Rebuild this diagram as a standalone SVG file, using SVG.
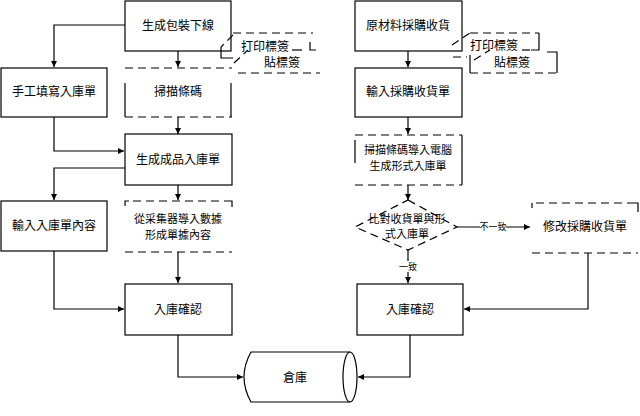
<svg xmlns="http://www.w3.org/2000/svg" width="640" height="416" viewBox="0 0 640 416">
<defs>
<marker id="ah" viewBox="0 0 10 10" refX="10" refY="5" markerWidth="6" markerHeight="6" markerUnits="userSpaceOnUse" orient="auto">
<path d="M0,0 L10,5 L0,10 Z" fill="#000"/>
</marker>
<style>
.box{fill:#fff;stroke:#000;stroke-width:1.2}
.dash{fill:none;stroke:#000;stroke-width:1.2;stroke-dasharray:8,5}
.sol{fill:none;stroke:#000;stroke-width:1.2}
.ln{fill:none;stroke:#000;stroke-width:1.2}
.t{font-family:"Noto Sans CJK TC","Noto Sans CJK SC",sans-serif;font-size:12px;fill:#000;text-anchor:middle}
.t2{font-family:"Noto Sans CJK TC","Noto Sans CJK SC",sans-serif;font-size:11px;fill:#000;text-anchor:middle}
.s{font-family:"Noto Sans CJK TC","Noto Sans CJK SC",sans-serif;font-size:9px;fill:#000;text-anchor:middle}
</style>
</defs>
<rect width="640" height="416" fill="#fff"/>

<g id="connectors">
<path class="ln" d="M178,51 V67" marker-end="url(#ah)"/>
<path class="ln" d="M125,25 H54 V67" marker-end="url(#ah)"/>
<path class="ln" d="M178,117 V134" marker-end="url(#ah)"/>
<path class="ln" d="M54,117 V151 H124" marker-end="url(#ah)"/>
<path class="ln" d="M125,168 H54 V200" marker-end="url(#ah)"/>
<path class="ln" d="M178,185 V200" marker-end="url(#ah)"/>
<path class="ln" d="M178,252 V283" marker-end="url(#ah)"/>
<path class="ln" d="M54,251 V309 H124" marker-end="url(#ah)"/>
<path class="ln" d="M178,335 V377 H243" marker-end="url(#ah)"/>
<path class="ln" d="M408,51 V67" marker-end="url(#ah)"/>
<path class="ln" d="M408,117 V134" marker-end="url(#ah)"/>
<path class="ln" d="M408,185 V200" marker-end="url(#ah)"/>
<path class="ln" d="M408,250 V283" marker-end="url(#ah)"/>
<path class="ln" d="M457,227 H530" marker-end="url(#ah)"/>
<path class="ln" d="M588,253 V309 H464" marker-end="url(#ah)"/>
<path class="ln" d="M410,335 V377 H358" marker-end="url(#ah)"/>
<rect x="397" y="261" width="22" height="11" fill="#fff"/>
<text class="s" x="408" y="270">一致</text>
<rect x="480" y="221" width="26" height="11" fill="#fff"/>
<text class="s" x="493" y="230">不一致</text>
</g>

<g id="n1">
<rect class="box" x="125" y="1" width="106" height="50"/>
<text class="t" x="178" y="30">生成包裝下線</text>
</g>

<g id="callout-left">
<path class="dash" d="M233,33 H313"/>
<path class="dash" d="M233,35 L221,47"/>
<path class="sol" d="M221,47 V58 H233"/>
<path class="sol" d="M310,42 V50 H316"/>
<path class="sol" d="M292,50 H302"/>
<text class="t" x="265" y="51">打印標簽</text>
<path class="dash" d="M234,63 L248,50"/>
<path class="dash" d="M238,73 H320"/>
<text class="t" x="282" y="67">貼標簽</text>
</g>

<g id="n2">
<rect class="box" x="1" y="68" width="106" height="49"/>
<text class="t" x="54" y="96">手工填寫入庫單</text>
</g>

<g id="n3">
<path class="dash" d="M125,68 H232"/>
<path class="sol" d="M125,83 V117 M231,83 V117"/>
<path class="dash" d="M125,117 H232"/>
<text class="t" x="178" y="96">掃描條碼</text>
</g>

<g id="n4">
<rect class="box" x="125" y="134" width="107" height="51"/>
<text class="t" x="178" y="164">生成成品入庫單</text>
</g>

<g id="n5">
<rect class="box" x="1" y="201" width="106" height="50"/>
<text class="t" x="54" y="230">輸入入庫單內容</text>
</g>

<g id="n6">
<path class="sol" d="M125,206 V201 H129"/>
<path class="dash" d="M133,201 H228"/>
<path class="sol" d="M228,201 H232 V207"/>
<path class="dash" d="M125,252 H232"/>
<text class="t2" x="178" y="223">從采集器導入數據</text>
<text class="t2" x="178" y="239">形成單據內容</text>
</g>

<g id="n7">
<rect class="box" x="125" y="284" width="107" height="51"/>
<text class="t" x="178" y="314">入庫確認</text>
</g>

<g id="n8">
<rect class="box" x="355" y="1" width="107" height="50"/>
<text class="t" x="408" y="30">原材料採購收貨</text>
</g>

<g id="callout-right">
<path class="dash" d="M452,45 L470,33"/>
<path class="dash" d="M470,33 H539"/>
<path class="sol" d="M539,33 V50 H531"/>
<path class="dash" d="M522,50 H531"/>
<text class="t" x="494" y="50">打印標簽</text>
<path class="dash" d="M453,57 H467"/>
<path class="dash" d="M474,60 L490,50"/>
<path class="sol" d="M470,55 V73"/>
<path class="dash" d="M470,73 H557"/>
<path class="sol" d="M547,52 H557 V73"/>
<text class="t" x="512" y="67">貼標簽</text>
</g>

<g id="n9">
<rect class="box" x="355" y="68" width="107" height="49"/>
<text class="t" x="408" y="96">輸入採購收貨單</text>
</g>

<g id="n10">
<path class="dash" d="M355,135 H462"/>
<path class="sol" d="M355,140 V163 M462,135 V185"/>
<path class="dash" d="M355,185 H462"/>
<text class="t2" x="408" y="154">掃描條碼導入電腦</text>
<text class="t2" x="408" y="170">生成形式入庫單</text>
</g>

<g id="n11">
<path class="dash" d="M408,200 L457,227 L408,250 L355,227 Z" stroke-dasharray="6,5"/>
<text class="t2" x="407" y="223">比對收貨單與形</text>
<text class="t2" x="407" y="238">式入庫單</text>
</g>

<g id="n12">
<path class="sol" d="M532,208 V203"/>
<path class="dash" d="M536,203 H634"/>
<path class="sol" d="M634,203 H638 V212"/>
<path class="dash" d="M532,253 H638"/>
<text class="t" x="585" y="231">修改採購收貨單</text>
</g>

<g id="n13">
<rect class="box" x="357" y="284" width="106" height="51"/>
<text class="t" x="410" y="314">入庫確認</text>
</g>

<g id="n14">
<path class="box" d="M251,352 H350 A7,25 0 0 1 350,402 H251 Q237,377 251,352 Z"/>
<path class="sol" d="M350,352 A7,25 0 0 0 350,402"/>
<text class="t" x="295" y="382">倉庫</text>
</g>
</svg>
